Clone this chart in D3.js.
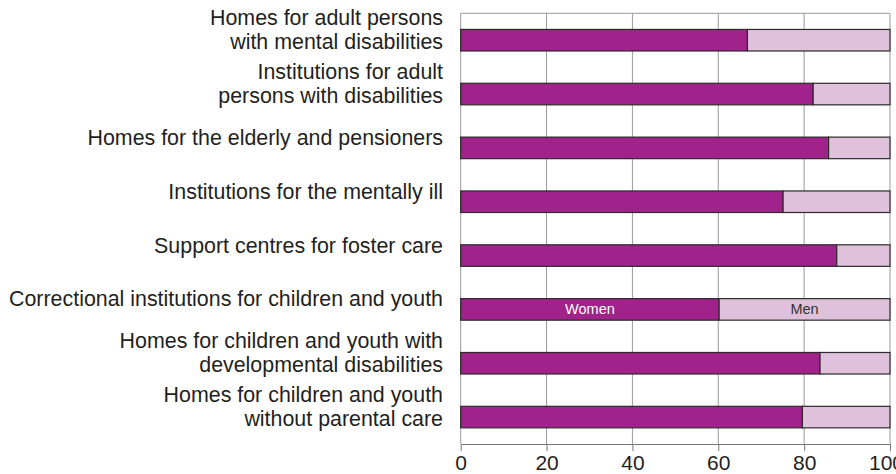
<!DOCTYPE html>
<html>
<head>
<meta charset="utf-8">
<script src="https://cdn.jsdelivr.net/npm/d3@7"></script>
<style>
  html, body { margin: 0; padding: 0; background: #fff; }
  svg { display: block; font-family: "Liberation Sans", Arial, Helvetica, sans-serif; }
</style>
</head>
<body>
<svg id="chart" width="896" height="474"></svg>
<script>
// ---- Data ----
const categories = [
  ["Homes for adult persons", "with mental disabilities"],
  ["Institutions for adult", "persons with disabilities"],
  ["Homes for the elderly and pensioners"],
  ["Institutions for the mentally ill"],
  ["Support centres for foster care"],
  ["Correctional institutions for children and youth"],
  ["Homes for children and youth with", "developmental disabilities"],
  ["Homes for children and youth", "without parental care"]
];
const women = [66.8, 82.1, 85.7, 75.1, 87.6, 60.2, 83.7, 79.6];
const men = women.map(w => 100 - w);
const seriesNames = ["Women", "Men"];
const tickValues = [0, 20, 40, 60, 80, 100];
const labelledRow = 5; // row that carries the series names

// ---- Layout ----
const svg = d3.select("#chart");
const plotL = 460.7, plotR = 890, plotT = 13.3, plotB = 444;
const colors = { Women: "#a0228a", Men: "#dfc1dc" };

const ids = categories.map((c, i) => i);
const x = d3.scaleLinear().domain([0, 100]).range([plotL, plotR]);
const y = d3.scaleBand().domain(ids).range([plotT, plotB]).paddingInner(0.6).paddingOuter(0.3);

// grid lines
const grid = svg.append("g");
grid.selectAll("line.v").data(tickValues).join("line")
  .attr("x1", d => x(d)).attr("x2", d => x(d))
  .attr("y1", plotT).attr("y2", plotB)
  .attr("stroke", "#9a9a9a").attr("stroke-width", 1);
grid.append("line").attr("x1", plotL).attr("x2", plotR).attr("y1", plotT).attr("y2", plotT)
  .attr("stroke", "#9a9a9a").attr("stroke-width", 1);

// x axis
const xAxis = d3.axisBottom(x).tickValues(tickValues).tickSize(7).tickSizeOuter(0).tickPadding(4);
const ax = svg.append("g").attr("transform", `translate(0,${plotB})`).call(xAxis);
ax.select(".domain").attr("stroke", "#777");
ax.selectAll(".tick line").attr("stroke", "#777");
ax.selectAll(".tick text").attr("font-size", 21).attr("fill", "#231f20")
  .attr("font-family", "'Liberation Sans', Arial, sans-serif")
  .attr("dx", d => d === 100 ? -4 : 0);

// stacked bars
const rows = ids.map(i => ({ i, Women: women[i], Men: men[i] }));
const stack = d3.stack().keys(seriesNames)(rows);
svg.append("g").selectAll("g").data(stack).join("g")
  .attr("fill", d => colors[d.key])
  .selectAll("rect").data(d => d).join("rect")
  .attr("x", d => x(d[0]))
  .attr("width", d => x(d[1]) - x(d[0]))
  .attr("y", d => y(d.data.i))
  .attr("height", y.bandwidth())
  .attr("stroke", "#2b2b2b").attr("stroke-width", 1.2);

// series names inside the labelled row
stack.forEach(s => {
  const d = s[labelledRow];
  svg.append("text")
    .attr("x", (x(d[0]) + x(d[1])) / 2)
    .attr("y", y(labelledRow) + y.bandwidth() / 2 + 5)
    .attr("text-anchor", "middle")
    .attr("font-size", 14.5)
    .attr("fill", s.key === "Women" ? "#ffffff" : "#333333")
    .text(s.key);
});

// category labels
const lab = svg.append("g");
categories.forEach((lines, i) => {
  const c = y(i) + y.bandwidth() / 2;
  const lh = 24;
  const mid = c - 3;
  const t = lab.append("text")
    .attr("text-anchor", "end")
    .attr("font-size", 21.4)
    .attr("fill", "#231f20");
  lines.forEach((ln, k) => {
    t.append("tspan")
      .attr("x", 443)
      .attr("y", mid + (k - (lines.length - 1) / 2) * lh)
      .text(ln);
  });
});
</script>
</body>
</html>
